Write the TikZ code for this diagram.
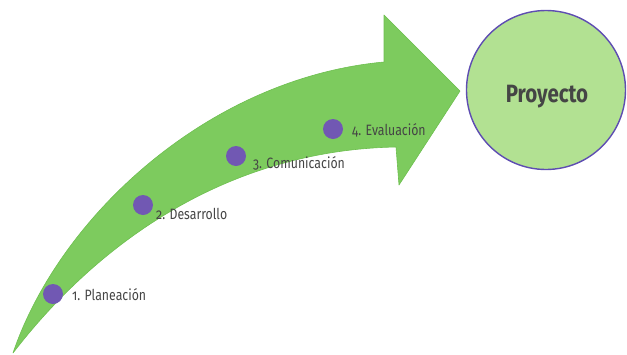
\documentclass[tikz,border=0pt]{standalone}
\usepackage{fontspec}
\setmainfont{Fira Sans}[FakeStretch=0.82, Numbers=OldStyle]
\definecolor{arrowgreen}{HTML}{7DCB5E}
\definecolor{arrowedge}{HTML}{6DBF4F}
\definecolor{circfill}{HTML}{B2E192}
\definecolor{circedge}{HTML}{5E4DB2}
\definecolor{dotpurple}{HTML}{7158B3}
\definecolor{txtgray}{HTML}{454545}
\begin{document}
\begin{tikzpicture}[x=1pt,y=-1pt,
  stepdot/.style={circle, fill=dotpurple, minimum size=20pt, inner sep=0pt},
  steplabel/.style={anchor=base west, inner sep=0pt, text=txtgray, font=\fontsize{15}{17}\selectfont},
  goal/.style={circle, draw=circedge, fill=circfill, line width=1.4pt, minimum size=159pt, inner sep=0pt},
  goallabel/.style={anchor=base, inner sep=0pt, text=txtgray, font=\fontsize{25}{29}\selectfont\bfseries}]
\useasboundingbox (0,0) rectangle (627,354);
% big curved arrow
\path[fill=arrowgreen, draw=arrowedge, line width=0.6pt, line join=round]
  (13,353) .. controls (60,215) and (210,78) .. (384,62)
  -- (384,15) -- (460,91) -- (399,185) -- (396,147)
  .. controls (230,150) and (100,240) .. (13,353) -- cycle;
% goal circle
\node[goal] (proy) at (546,90) {};
\node[goallabel] (proytext) at (547,102) {Proyecto};
% steps
\node[stepdot] (d1) at (53,294) {};
\node[stepdot] (d2) at (143,205) {};
\node[stepdot] (d3) at (236,156) {};
\node[stepdot] (d4) at (333,129) {};
\node[steplabel] (l1) at (72,300) {1. Planeación};
\node[steplabel] (l2) at (156,219) {2. Desarrollo};
\node[steplabel] (l3) at (253,168) {3. Comunicación};
\node[steplabel] (l4) at (352,135) {4. Evaluación};
\end{tikzpicture}
\end{document}
